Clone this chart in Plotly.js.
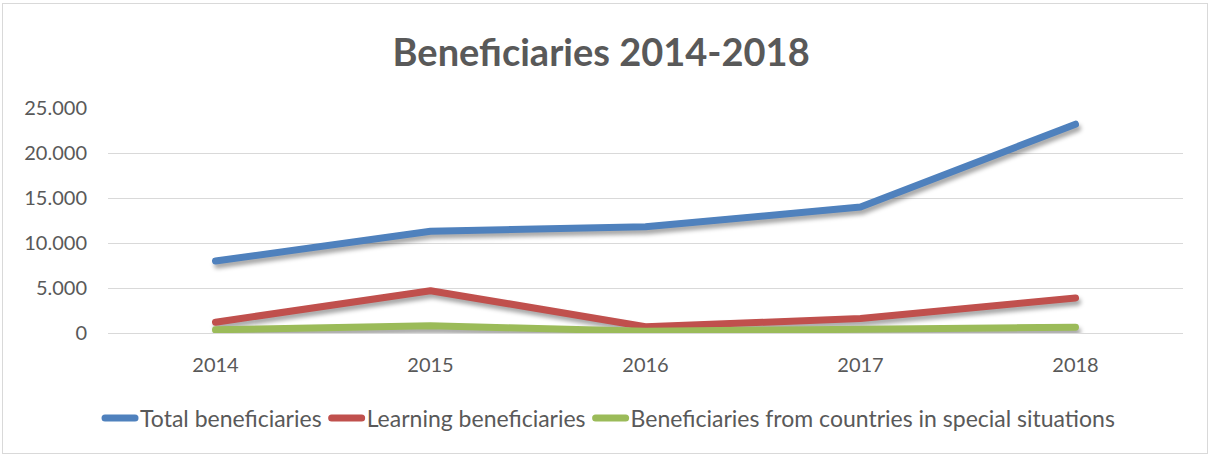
<!DOCTYPE html>
<html>
<head>
<meta charset="utf-8">
<script src="https://cdn.plot.ly/plotly-3.0.1.min.js"></script>
<style>
  html, body { margin: 0; padding: 0; background: #fff; }
  #wrap { position: relative; width: 1212px; height: 456px; }
  #chart { position: absolute; left: 0; top: 0; width: 1212px; height: 456px; }
  #frame { position: absolute; left: 2px; top: 3px; width: 1204px; height: 449px; border: 1px solid #d9d9d9; pointer-events: none; }
  #chart .scatterlayer .js-line { filter: drop-shadow(2px 4px 2px rgba(0,0,0,0.35)); stroke-linecap: round; stroke-linejoin: round; }
  #chart .legendlines path { stroke-linecap: round; }
</style>
</head>
<body>
<div id="wrap">
  <div id="chart"></div>
  <div id="frame"></div>
</div>
<script>
const years = ['2014', '2015', '2016', '2017', '2018'];
const totalBeneficiaries = [8000, 11300, 11800, 14000, 23200];
const learningBeneficiaries = [1200, 4700, 700, 1600, 3900];
const specialSituations = [350, 800, 200, 350, 650];
const yTickVals = [0, 5000, 10000, 15000, 20000, 25000];
const yTickText = ['0', '5.000', '10.000', '15.000', '20.000', '25.000'];

const font = 'Lato, "Open Sans", sans-serif';
const mk = (name, y, color) => ({
  type: 'scatter', mode: 'lines', name: name, x: years, y: y,
  line: { color: color, width: 7 }, hoverinfo: 'x+y'
});

const data = [
  mk('Total beneficiaries', totalBeneficiaries, '#4f81bd'),
  mk('Learning beneficiaries', learningBeneficiaries, '#c0504d'),
  mk('Beneficiaries from countries in special situations', specialSituations, '#9bbb59')
];

const layout = {
  width: 1212, height: 456,
  margin: { l: 108, r: 29, t: 108, b: 123 },
  paper_bgcolor: '#fff', plot_bgcolor: '#fff',
  font: { family: font, color: '#595959', size: 20 },
  title: {
    text: '<b>Beneficiaries 2014-2018</b>',
    font: { family: font, size: 38, color: '#595959' },
    x: 0.496, xanchor: 'center', y: 0.885, yanchor: 'middle'
  },
  xaxis: {
    type: 'category', range: [-0.5, 4.5],
    showgrid: false, zeroline: false, showline: false,
    ticks: '', ticklabelstandoff: 18,
    tickfont: { family: font, size: 20, color: '#595959' }
  },
  yaxis: {
    range: [0, 25000], tickvals: yTickVals, ticktext: yTickText,
    showgrid: true, gridcolor: '#d9d9d9', gridwidth: 1,
    zeroline: true, zerolinecolor: '#d9d9d9', zerolinewidth: 1,
    showline: false, ticks: '', ticklabelstandoff: 20,
    tickfont: { family: font, size: 20, color: '#595959' }
  },
  showlegend: true,
  legend: {
    orientation: 'h', x: 0.467, xanchor: 'center', y: -0.378, yanchor: 'middle',
    font: { family: font, size: 23, color: '#595959' },
    itemwidth: 30, tracegroupgap: 0
  }
};

Plotly.newPlot('chart', data, layout, { displayModeBar: false, staticPlot: true });
</script>
</body>
</html>
